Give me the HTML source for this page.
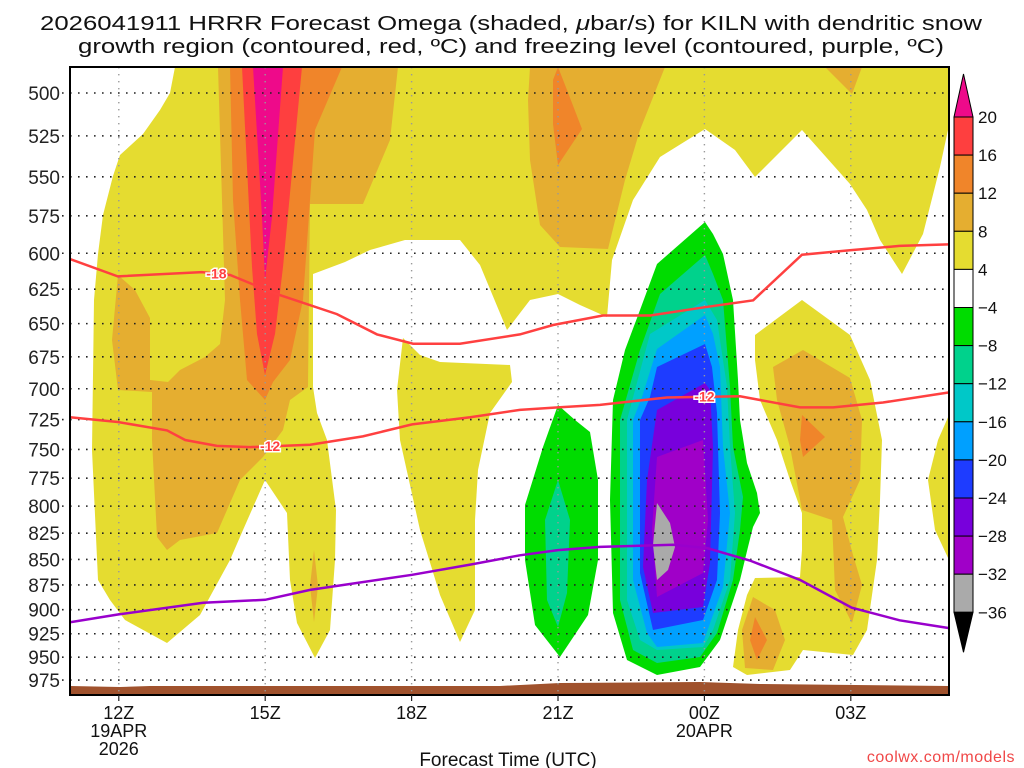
<!DOCTYPE html>
<html><head><meta charset="utf-8"><style>
html,body{margin:0;padding:0;background:#fff;}
svg{display:block;font-family:"Liberation Sans",sans-serif;}
</style></head><body>
<svg id="chart" width="1024" height="768" viewBox="0 0 1024 768">
<g id="title">
<text x="511" y="30" text-anchor="middle" font-size="20" textLength="942" lengthAdjust="spacingAndGlyphs" fill="#111">2026041911 HRRR Forecast Omega (shaded, <tspan font-style="italic">μ</tspan>bar/s) for KILN with dendritic snow</text>
<text x="511" y="53" text-anchor="middle" font-size="20" textLength="866" lengthAdjust="spacingAndGlyphs" fill="#111">growth region (contoured, red, ºC) and freezing level (contoured, purple, ºC)</text>
</g>
<defs><clipPath id="plotclip"><rect x="70" y="67" width="879" height="628"/></clipPath></defs>
<g id="field" clip-path="url(#plotclip)"></g>
<g id="grid"></g>
<g id="lines" clip-path="url(#plotclip)"></g>
<rect x="70" y="67" width="879" height="628" fill="none" stroke="#000" stroke-width="2"/>
<g id="axes"></g>
<g id="cbar"></g>
<text x="508" y="766" text-anchor="middle" font-size="19" fill="#111">Forecast Time (UTC)</text>
<text x="1015" y="762" text-anchor="end" font-size="16" fill="#f04848" letter-spacing="0.5">coolwx.com/models</text>
</svg>
<script>
// ---- data ----
const pressureTicks = [500,525,550,575,600,625,650,675,700,725,750,775,800,825,850,875,900,925,950,975];
const timeTickHours = [1,4,7,10,13,16];
const timeTickLabels = ["12Z","15Z","18Z","21Z","00Z","03Z"];
const timeTickSub = [["19APR","2026"],[],[],[],["20APR"],[]];
const cbarLevels = [20,16,12,8,4,-4,-8,-12,-16,-20,-24,-28,-32,-36];
const cbarColors = ["#fe3f3f","#f0852a","#e5ae30","#e5dc30","#ffffff","#00dc00","#00d28c","#00c8c8","#00a0ff","#1e3cff","#7800dc","#a000c8","#aaaaaa"];
// dendritic -18C contour [hours after 11Z, hPa]
const dgzMinus18 = [[0,604],[0.98,616],[2.7,613],[3.28,615],[4.2,628],[5.47,643],[6.29,658],[7.03,665],[7.99,665],[9.22,658],[9.9,651],[10.92,644],[11.89,644],[13.01,638],[14.0,633],[15.0,601],[15.98,598],[17.0,595],[18.0,594]];
const dgzMinus12 = [[0,723],[0.98,727],[1.99,734],[2.36,742],[3.01,747],[3.69,748],[4.92,746],[6.0,739],[7.01,729],[8.2,723],[9.22,717],[10.0,715],[10.86,713],[12.23,707],[13.73,706],[14.96,715],[15.64,715],[16.66,711],[18.0,703]];
const freezingLevel = [[0,913],[0.98,905],[2.73,893],[4.0,890],[4.92,880],[7.01,865],[8.2,855],[9.22,846],[10.0,841],[10.86,838],[12.36,836],[13.05,839],[13.93,851],[14.96,870],[16.02,898],[17.0,911],[18.0,919]];
const contourLabels = [["-18",3.0,614],["-12",4.1,747],["-12",13.0,706]];

// ---- axes ----
const X0=70, PX_PER_H=48.8;
function xOf(h){return X0+h*PX_PER_H;}
function yOf(p){return 93+879*Math.log(p/500);}
const NS="http://www.w3.org/2000/svg";
function mk(tag,attrs,parent){const e=document.createElementNS(NS,tag);for(const k in attrs)e.setAttribute(k,attrs[k]);parent.appendChild(e);return e;}

// ---- shaded omega field (contour polygons) ----
const fieldG=document.getElementById('field');
const shapes=[
 ["pos4","#e5dc30","175,67 948,67 948,130 940,167 923,234 902,274 880,240 867,210 850,184 802,130 755,177 735,150 705,129 660,157 633,200 612,260 607,317 580,305 558,294 530,300 507,330 480,265 460,240 405,240 370,250 345,262 313,274 313,387 317,413 327,440 336,510 335,560 330,630 315,658 297,623 290,580 287,513 265,480 243,530 230,560 200,615 167,643 125,620 110,600 98,580 92,450 94,300 98,254 103,215 113,176 120,155 143,134 160,110 170,93"],
 ["pos4","#e5dc30","403,338 420,355 440,362 510,365 512,382 490,413 478,470 475,520 475,610 460,642 440,595 420,530 400,440 397,390"],
 ["pos4","#e5dc30","755,335 802,300 850,335 870,380 882,440 880,500 877,560 867,630 853,655 803,650 790,670 747,675 733,667 738,630 747,595 755,578 800,577 802,550 802,513 790,480 777,440 760,400 755,360"],
 ["pos4","#e5dc30","949,415 938,440 928,480 935,530 949,560"],
 ["pos8","#e5ae30","118,275 135,290 150,318 150,380 168,382 180,370 205,357 220,344 225,300 222,200 218,67 398,67 390,140 363,204 310,204 308,387 290,400 283,430 263,457 240,480 217,533 180,540 167,550 157,537 152,440 152,392 118,390 112,340"],
 ["pos8","#e5ae30","530,67 665,67 640,130 625,180 608,249 560,247 540,225 530,160 528,100"],
 ["pos8","#e5ae30","825,67 862,67 852,94"],
 ["pos8","#e5ae30","773,367 803,350 850,378 862,420 860,480 843,517 853,555 862,585 852,623 835,590 832,520 802,510 790,447 777,400"],
 ["pos8","#e5ae30","753,597 775,610 785,640 773,670 745,668 742,630"],
 ["pos8","#e5ae30","314,550 318,586 314,622 310,586"],
 ["pos12","#f0852a","230,67 342,67 315,130 310,200 303,300 290,360 273,382 265,400 247,380 240,300 233,200"],
 ["pos12","#f0852a","558,67 567,90 582,129 558,165 553,124 553,80"],
 ["pos12","#f0852a","802,415 825,437 803,457 800,440"],
 ["pos12","#f0852a","755,617 767,640 757,660 750,640"],
 ["pos16","#fe3f3f","242,67 302,67 283,267 275,334 265,375 257,334 252,267"],
 ["pos20","#ee0a8a","253,67 283,67 272,217 265,280 262,217"],
 ["neg4","#00dc00","558,405 575,420 590,432 598,480 598,560 588,615 560,657 535,625 525,560 525,505 543,447"],
 ["neg8","#00d28c","558,480 570,520 567,593 558,627 547,600 545,520"],
 ["neg4","#00dc00","705,222 713,234 723,254 733,300 738,380 740,420 747,463 757,493 760,513 753,527 748,547 740,580 720,640 700,667 657,675 627,660 613,613 610,500 613,400 625,350 640,310 657,264"],
 ["neg8","#00d28c","705,255 713,274 723,300 730,387 733,447 743,497 740,530 733,580 717,633 700,657 657,663 633,650 620,600 620,420 640,350 660,294"],
 ["neg12","#00c8c8","705,300 717,320 727,387 730,447 735,513 730,580 713,630 703,647 657,650 640,640 627,600 627,420 650,334"],
 ["neg16","#00a0ff","705,315 713,334 720,367 723,447 730,513 723,587 703,643 657,647 647,633 633,580 633,420 642,397 657,349"],
 ["neg20","#1e3cff","705,344 712,367 717,413 720,513 717,580 703,620 653,630 640,573 640,420 650,397 657,367"],
 ["neg24","#7800dc","705,383 710,390 713,447 710,563 703,607 653,613 643,567 647,480 657,410"],
 ["neg28","#a000c8","703,440 708,520 703,573 657,597 652,530 657,457"],
 ["neg32","#aaaaaa","657,503 670,523 675,547 668,570 657,580 653,545"]
];
shapes.forEach(s=>{
  const el=mk('polygon',{points:s[2],fill:s[1]},fieldG);
  
  
});
const groundEl=mk('polygon',{points:"70,686 120,687 150,686 500,686 560,683 700,682 760,684 949,686 949,695 70,695",fill:"#a0522d"},fieldG);



// ---- grid & axes ----
const gridG=document.getElementById('grid'), axesG=document.getElementById('axes');
pressureTicks.forEach(p=>{
  const y=yOf(p);
  const gl=mk('line',{x1:62,x2:949,y1:y,y2:y,stroke:"#222","stroke-width":1.6,"stroke-dasharray":"1.6 6.4"},gridG);
  
  
  const t=mk('text',{x:60,y:y+7,"text-anchor":"end","font-size":19,fill:"#222"},axesG);
  t.textContent=p;
  
  
});
timeTickHours.forEach((h,i)=>{
  const x=xOf(h);
  const gl=mk('line',{x1:x,x2:x,y1:67,y2:695,stroke:"#999","stroke-width":1.4,"stroke-dasharray":"1.4 5.6"},gridG);
  
  
  const tk=mk('line',{x1:x,x2:x,y1:695,y2:701,stroke:"#222","stroke-width":1.2},axesG);
  
  
  const t=mk('text',{x:x,y:719,"text-anchor":"middle","font-size":18,fill:"#111"},axesG);
  t.textContent=timeTickLabels[i];
  
  
  timeTickSub[i].forEach((s,j)=>{
    const ts=mk('text',{x:x,y:737+j*18,"text-anchor":"middle","font-size":18,fill:"#111"},axesG);
    ts.textContent=s;
    
    
  });
});

// ---- contour lines ----
const linesG=document.getElementById('lines');
function pathOf(arr){return arr.map((d,i)=>(i?'L':'M')+xOf(d[0]).toFixed(1)+','+yOf(d[1]).toFixed(1)).join(' ');}
const l18=mk('path',{d:pathOf(dgzMinus18),fill:"none",stroke:"#ff4040","stroke-width":2.5},linesG);


const l12=mk('path',{d:pathOf(dgzMinus12),fill:"none",stroke:"#ff4040","stroke-width":2.5},linesG);


const lfz=mk('path',{d:pathOf(freezingLevel),fill:"none",stroke:"#9900cc","stroke-width":2.5},linesG);


contourLabels.forEach(c=>{
  const x=xOf(c[1]), y=yOf(c[2]);
  const t=mk('text',{x:x,y:y+5,"text-anchor":"middle","font-size":14,"font-weight":"bold",fill:"#ff4040",stroke:"#fff","stroke-width":3,"paint-order":"stroke"},linesG);
  t.textContent=c[0];
  
  
});

// ---- colorbar ----
const cbG=document.getElementById('cbar');
const CB_TOP=117, CB_STEP=38.1, CBX=954, CBW=19;
const cbTop=mk('polygon',{points:`${CBX},${CB_TOP} ${CBX+CBW},${CB_TOP} ${CBX+CBW/2},74`,fill:"#ee0a8a",stroke:"#000","stroke-width":1},cbG);


cbarColors.forEach((c,i)=>{
  const r=mk('rect',{x:CBX,y:CB_TOP+i*CB_STEP,width:CBW,height:CB_STEP,fill:c,stroke:"#000","stroke-width":1},cbG);
  
  
});
const cbBotY=CB_TOP+cbarColors.length*CB_STEP;
const cbBot=mk('polygon',{points:`${CBX},${cbBotY} ${CBX+CBW},${cbBotY} ${CBX+CBW/2},${cbBotY+40}`,fill:"#000",stroke:"#000","stroke-width":1},cbG);


cbarLevels.forEach((v,i)=>{
  const t=mk('text',{x:978,y:CB_TOP+i*CB_STEP+6,"font-size":17,fill:"#111"},cbG);
  t.textContent=v<0?'\u2212'+Math.abs(v):String(v);
  
  
});
</script>
</body></html>
